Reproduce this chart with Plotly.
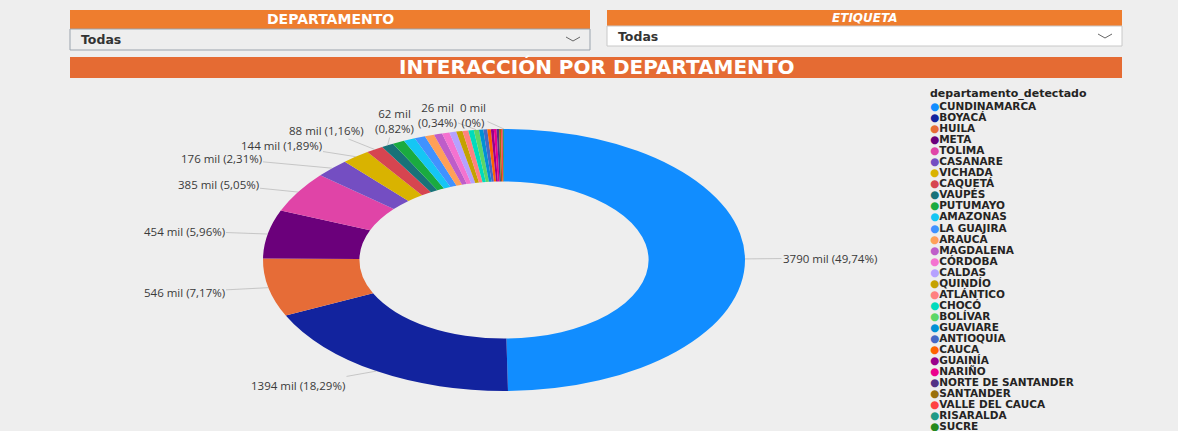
import math
import plotly.graph_objects as go

# ---------------- data ----------------
departamentos = ["CUNDINAMARCA", "BOYACÁ", "HUILA", "META", "TOLIMA", "CASANARE", "VICHADA",
                 "CAQUETÁ", "VAUPÉS", "PUTUMAYO", "AMAZONAS", "LA GUAJIRA", "ARAUCA", "MAGDALENA",
                 "CÓRDOBA", "CALDAS", "QUINDÍO", "ATLÁNTICO", "CHOCÓ", "BOLÍVAR", "GUAVIARE",
                 "ANTIOQUIA", "CAUCA", "GUAINÍA", "NARIÑO", "NORTE DE SANTANDER", "SANTANDER",
                 "VALLE DEL CAUCA", "RISARALDA", "SUCRE"]
interacciones_mil = [3790, 1394, 546, 454, 385, 176, 144, 88.4, 62.4, 61, 59, 55, 48, 42,
                     38, 35, 32, 30, 28, 26, 22, 20, 18, 15, 14, 12, 10, 9, 6, 0.3]
colores = ["#118DFF", "#12239E", "#E66C37", "#6B007B", "#E044A7", "#744EC2", "#D9B300",
           "#D64550", "#197278", "#1AAB40", "#15C6F4", "#4092FF", "#FFA058", "#BE5DC9",
           "#F472D0", "#B5A1FF", "#C4A200", "#FF8080", "#00DBBC", "#5BD667", "#0091D5",
           "#4668C5", "#FF6300", "#99008A", "#EC008C", "#533285", "#99700A", "#FF4141",
           "#1F9A85", "#25891C"]
etiquetados = ["CUNDINAMARCA", "BOYACÁ", "HUILA", "META", "TOLIMA", "CASANARE", "VICHADA",
               "CAQUETÁ", "VAUPÉS", "BOLÍVAR", "SUCRE"]
titulo = "INTERACCIÓN POR DEPARTAMENTO"
leyenda_titulo = "departamento_detectado"

# ---------------- layout constants ----------------
W, H = 1178, 431
CX, CY, RY, RX = 504, 260, 131, 241
HOLE = 0.60
label_pos = {  # pixel centre of each data label text
    "CUNDINAMARCA": (830, 258), "BOYACÁ": (298, 385), "HUILA": (184, 292),
    "META": (184, 231), "TOLIMA": (218, 184), "CASANARE": (221, 158),
    "VICHADA": (281, 145), "CAQUETÁ": (326, 130), "VAUPÉS": (394, 121),
    "BOLÍVAR": (437, 115), "SUCRE": (473, 115),
}
dos_lineas = {"VAUPÉS", "BOLÍVAR", "SUCRE"}


def px(x):
    return x / W


def py(y):
    return 1 - y / H


total = sum(interacciones_mil)

fig = go.Figure()
fig.add_trace(go.Pie(
    labels=departamentos, values=interacciones_mil, marker=dict(colors=colores, line=dict(width=0)),
    hole=HOLE, sort=False, direction="clockwise", rotation=0, textinfo="none",
    showlegend=False, hoverinfo="label+value+percent",
    domain=dict(x=[px(CX - RY), px(CX + RY)], y=[py(CY + RY), py(CY - RY)]),
))

annotations = []
shapes = []

# data labels with leader lines
acum = 0.0
for nombre, v in zip(departamentos, interacciones_mil):
    mid = (acum + v / 2) / total
    acum += v
    if nombre not in label_pos:
        continue
    th = 2 * math.pi * mid
    axp = CX + RX * math.sin(th)
    ayp = CY - RY * math.cos(th)
    pct = f"{100 * v / total:.2f}".rstrip("0").rstrip(".").replace(".", ",")
    sep = "<br>" if nombre in dos_lineas else " "
    txt = f"{v:.0f} mil{sep}({pct}%)"
    lx, ly = label_pos[nombre]
    annotations.append(dict(
        x=px(axp), y=py(ayp), xref="paper", yref="paper", text=txt,
        xanchor="center", yanchor="middle",
        showarrow=True, arrowhead=0, arrowwidth=0.7, arrowcolor="#b5b5b5",
        ax=lx - axp, ay=ly - ayp, standoff=0,
        font=dict(family="Open Sans", size=11.5, color="#3a3a3a"),
    ))

# header filter boxes
naranja = "#EE7D2E"
shapes += [
    dict(type="rect", xref="paper", yref="paper", x0=px(70), x1=px(590), y0=py(29), y1=py(10),
         fillcolor=naranja, line=dict(width=0), layer="below"),
    dict(type="rect", xref="paper", yref="paper", x0=px(70), x1=px(590), y0=py(50), y1=py(29),
         fillcolor="#eeeeee", line=dict(color="#9aa3ad", width=1), layer="below"),
    dict(type="rect", xref="paper", yref="paper", x0=px(607), x1=px(1122), y0=py(26), y1=py(10),
         fillcolor=naranja, line=dict(width=0), layer="below"),
    dict(type="rect", xref="paper", yref="paper", x0=px(607), x1=px(1122), y0=py(46), y1=py(26),
         fillcolor="#ffffff", line=dict(color="#c8c8c8", width=1), layer="below"),
    dict(type="rect", xref="paper", yref="paper", x0=px(70), x1=px(1122), y0=py(78), y1=py(57),
         fillcolor="#E56B33", line=dict(width=0), layer="below"),
]
for x0, yc in [(566, 37), (1098, 34)]:
    shapes.append(dict(type="path", xref="paper", yref="paper",
                       path=f"M {px(x0)},{py(yc)} L {px(x0 + 7)},{py(yc + 4)} L {px(x0 + 14)},{py(yc)}",
                       line=dict(color="#666666", width=1)))


def texto(x, y, t, size, color, family="DejaVu Sans", xanchor="center", pad=1):
    return dict(x=px(x), y=py(y), xref="paper", yref="paper", text=t, showarrow=False,
                xanchor=xanchor, yanchor="middle", borderpad=pad,
                font=dict(family=family, size=size, color=color))


annotations += [
    texto(330, 19.5, "<b>DEPARTAMENTO</b>", 14, "white"),
    texto(79, 39.5, "<b>Todas</b>", 12.5, "#333333", xanchor="left"),
    texto(865, 18, "<b><i>ETIQUETA</i></b>", 12, "white"),
    texto(616, 36, "<b>Todas</b>", 12.5, "#333333", xanchor="left"),
    texto(596, 67.5, f"<b>{titulo}</b>", 20, "white"),
    texto(929, 94, f"<b>{leyenda_titulo}</b>", 11, "#252423", xanchor="left", pad=0),
]

# legend (drawn as text so that all 30 entries fit like the original)
for i, (nombre, c) in enumerate(zip(departamentos, colores)):
    yy = 106 + i * 11.05
    annotations.append(texto(929, yy, f"<span style='color:{c}'>●</span><b>{nombre}</b>",
                             10.5, "#252423", xanchor="left", pad=0))

fig.update_layout(
    width=W, height=H, margin=dict(l=0, r=0, t=0, b=0),
    paper_bgcolor="#eeeeee", plot_bgcolor="#eeeeee",
    shapes=shapes, annotations=annotations,
)

sx = RX / RY
post = ("document.body.style.margin='0';"
        "var pl = document.querySelector('.pielayer');"
        f"if (pl) pl.setAttribute('transform', 'matrix({sx:.5f},0,0,1,{CX * (1 - sx):.3f},0)');")
fig.write_html("out.html", post_script=post, config={"displayModeBar": False})
